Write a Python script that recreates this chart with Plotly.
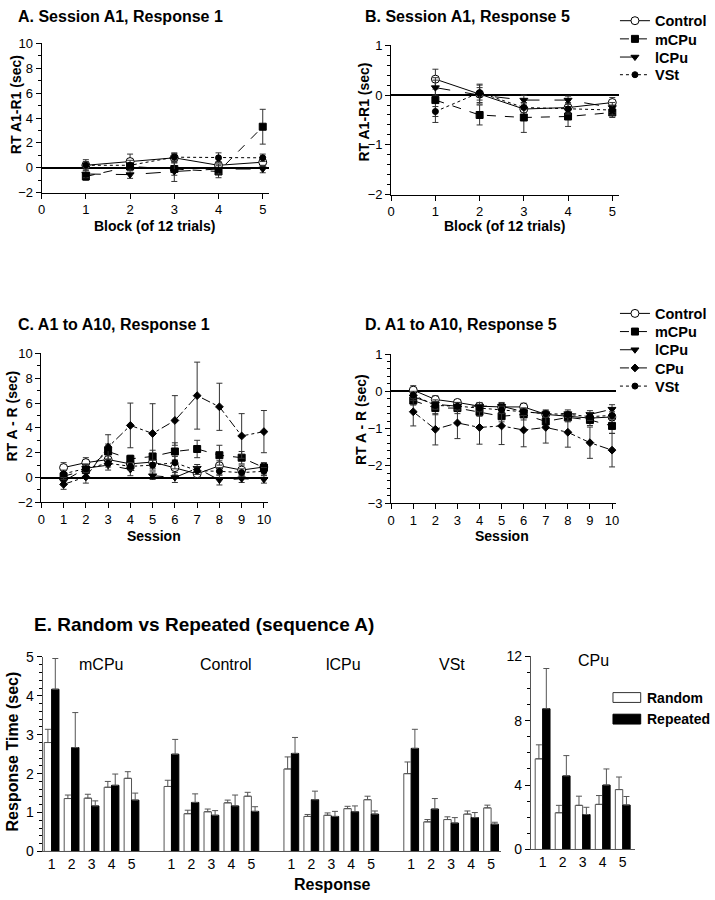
import plotly.graph_objects as go

W, H = 715, 900
FONT = "Liberation Sans, Arial, sans-serif"

# ---------------- data ----------------
blocks = [1, 2, 3, 4, 5]
sessions = [1, 2, 3, 4, 5, 6, 7, 8, 9, 10]

# Panel A: Session A1, Response 1 (RT A1-R1, sec)
a_control = [0.2, 0.5, 0.8, 0.2, 0.45]
a_control_err = [0.45, 0.6, 0.4, 0.3, 0.35]
a_mcpu = [-0.7, 0.1, -0.1, -0.3, 3.3]
a_mcpu_err = [0.3, 0.3, 0.5, 0.5, 1.4]
a_lcpu = [-0.5, -0.55, -0.3, -0.1, -0.1]
a_lcpu_err = [0.3, 0.3, 0.8, 0.4, 0.3]
a_vst = [0.2, 0.2, 0.85, 0.8, 0.8]
a_vst_err = [0.3, 0.4, 0.3, 0.4, 0.3]

# Panel B: Session A1, Response 5
b_control = [0.32, 0.02, -0.28, -0.25, -0.15]
b_control_err = [0.2, 0.2, 0.12, 0.1, 0.1]
b_mcpu = [-0.1, -0.4, -0.45, -0.43, -0.35]
b_mcpu_err = [0.45, 0.2, 0.3, 0.2, 0.1]
b_lcpu = [0.15, 0.0, -0.1, -0.1, -0.25]
b_lcpu_err = [0.15, 0.15, 0.1, 0.08, 0.1]
b_vst = [-0.33, 0.05, -0.25, -0.28, -0.3]
b_vst_err = [0.1, 0.15, 0.1, 0.1, 0.1]

# Panel C: A1 to A10, Response 1 (RT A - R, sec)
c_control = [0.8, 1.2, 1.45, 1.1, 1.25, 0.8, 0.3, 0.95, 0.6, 0.85]
c_control_err = [0.4, 0.4, 0.4, 0.4, 0.5, 0.6, 0.3, 0.4, 0.4, 0.3]
c_mcpu = [0.1, 0.6, 2.1, 1.5, 1.7, 2.1, 2.3, 1.8, 1.6, 0.8]
c_mcpu_err = [0.3, 0.5, 0.6, 0.3, 0.5, 0.7, 0.7, 0.8, 0.5, 0.4]
c_lcpu = [-0.3, 0.75, 1.0, 0.65, 0.15, 0.0, 0.75, -0.2, -0.1, -0.15]
c_lcpu_err = [0.3, 0.3, 0.4, 0.5, 0.3, 0.4, 0.3, 0.4, 0.3, 0.3]
c_cpu = [-0.55, 0.05, 2.45, 4.2, 3.55, 4.6, 6.6, 5.7, 3.35, 3.7]
c_cpu_err = [0.4, 0.5, 1.0, 1.8, 2.4, 2.0, 2.7, 1.9, 1.8, 1.7]
c_vst = [0.3, 0.7, 1.15, 0.9, 1.0, 1.2, 0.55, 0.5, 0.4, 0.5]
c_vst_err = [0.3, 0.3, 0.3, 0.3, 0.4, 0.5, 0.3, 0.3, 0.3, 0.3]

# Panel D: A1 to A10, Response 5
d_control = [0.03, -0.22, -0.3, -0.4, -0.42, -0.42, -0.62, -0.66, -0.72, -0.69]
d_control_err = [0.12, 0.1, 0.08, 0.08, 0.1, 0.1, 0.08, 0.08, 0.1, 0.1]
d_mcpu = [-0.25, -0.45, -0.45, -0.55, -0.67, -0.62, -0.81, -0.7, -0.77, -0.93]
d_mcpu_err = [0.12, 0.18, 0.15, 0.12, 0.15, 0.15, 0.15, 0.12, 0.15, 0.2]
d_lcpu = [-0.15, -0.35, -0.4, -0.4, -0.4, -0.55, -0.6, -0.6, -0.62, -0.48]
d_lcpu_err = [0.1, 0.12, 0.1, 0.1, 0.1, 0.1, 0.1, 0.1, 0.1, 0.12]
d_cpu = [-0.55, -1.02, -0.85, -0.97, -0.93, -1.04, -0.97, -1.1, -1.38, -1.58]
d_cpu_err = [0.38, 0.42, 0.42, 0.45, 0.5, 0.45, 0.42, 0.4, 0.42, 0.45]
d_vst = [-0.1, -0.38, -0.4, -0.45, -0.5, -0.55, -0.6, -0.62, -0.68, -0.65]
d_vst_err = [0.1, 0.1, 0.1, 0.1, 0.1, 0.1, 0.08, 0.08, 0.1, 0.1]

# Panel E: Random vs Repeated (Response Time, sec)
responses = [1, 2, 3, 4, 5]
e_groups = ["mCPu", "Control", "lCPu", "VSt"]
e_mcpu_random = [2.8, 1.36, 1.37, 1.65, 1.88]
e_mcpu_random_err = [0.34, 0.09, 0.10, 0.15, 0.17]
e_mcpu_repeated = [4.17, 2.67, 1.17, 1.70, 1.32]
e_mcpu_repeated_err = [0.79, 0.9, 0.13, 0.29, 0.18]
e_control_random = [1.67, 0.97, 1.02, 1.25, 1.42]
e_control_random_err = [0.16, 0.09, 0.07, 0.07, 0.10]
e_control_repeated = [2.5, 1.26, 0.93, 1.17, 1.03]
e_control_repeated_err = [0.38, 0.22, 0.12, 0.28, 0.12]
e_lcpu_random = [2.12, 0.9, 0.93, 1.1, 1.33]
e_lcpu_random_err = [0.31, 0.05, 0.06, 0.06, 0.09]
e_lcpu_repeated = [2.52, 1.33, 0.9, 1.02, 0.96]
e_lcpu_repeated_err = [0.41, 0.22, 0.13, 0.15, 0.08]
e_vst_random = [2.0, 0.76, 0.82, 0.96, 1.12]
e_vst_random_err = [0.3, 0.06, 0.07, 0.08, 0.07]
e_vst_repeated = [2.65, 1.09, 0.73, 0.87, 0.70]
e_vst_repeated_err = [0.49, 0.27, 0.14, 0.13, 0.05]
e_cpu_random = [5.63, 2.28, 2.74, 2.8, 3.72]
e_cpu_random_err = [0.87, 0.46, 0.57, 0.55, 0.78]
e_cpu_repeated = [8.74, 4.57, 2.17, 4.0, 2.76]
e_cpu_repeated_err = [2.5, 1.26, 0.45, 1.0, 0.53]

# ---------------- styles ----------------
STYLE = {
    "Control": dict(symbol="circle", color="white", size=8, dash="solid"),
    "mCPu": dict(symbol="square", color="black", size=7, dash="dash"),
    "lCPu": dict(symbol="triangle-down", color="black", size=7, dash="longdash"),
    "CPu": dict(symbol="diamond", color="black", size=6, dash="dashdot"),
    "VSt": dict(symbol="circle", color="black", size=6, dash="dot"),
}


def fx(px):
    return px / W


def fy(py):
    return 1 - py / H


fig = go.Figure()


def line_trace(name, x, y, err, xa, ya, legend=None):
    s = STYLE[name]
    return go.Scatter(
        x=x, y=y, name=name, mode="lines+markers",
        xaxis=xa, yaxis=ya,
        line=dict(color="black", width=1, dash=s["dash"]),
        marker=dict(symbol=s["symbol"], size=s["size"], color=s["color"],
                    line=dict(color="black", width=1)),
        error_y=dict(type="data", array=err, width=3, thickness=1, color="#333"),
        showlegend=legend is not None,
        legend=legend if legend else "legend",
    )


a_sets = [("Control", a_control, a_control_err), ("mCPu", a_mcpu, a_mcpu_err),
          ("lCPu", a_lcpu, a_lcpu_err), ("VSt", a_vst, a_vst_err)]
b_sets = [("Control", b_control, b_control_err), ("mCPu", b_mcpu, b_mcpu_err),
          ("lCPu", b_lcpu, b_lcpu_err), ("VSt", b_vst, b_vst_err)]
c_sets = [("Control", c_control, c_control_err), ("mCPu", c_mcpu, c_mcpu_err),
          ("lCPu", c_lcpu, c_lcpu_err), ("CPu", c_cpu, c_cpu_err), ("VSt", c_vst, c_vst_err)]
d_sets = [("Control", d_control, d_control_err), ("mCPu", d_mcpu, d_mcpu_err),
          ("lCPu", d_lcpu, d_lcpu_err), ("CPu", d_cpu, d_cpu_err), ("VSt", d_vst, d_vst_err)]

# one legend per entry so each row can sit exactly where the reference puts it
legfont = dict(family=FONT, size=14.5, color="black", weight="bold")
ab_rows = [13, 31.5, 50, 68]
cd_rows = [311, 329.5, 348, 366.5, 385]
legend_layout = {}
k = 0

for n, y, e in a_sets:
    fig.add_trace(line_trace(n, blocks, y, e, "x", "y"))
for i, (n, y, e) in enumerate(b_sets):
    k += 1
    lname = "legend" if k == 1 else f"legend{k}"
    legend_layout[lname] = dict(x=fx(617), y=fy(ab_rows[i]), xanchor="left", yanchor="middle",
                                font=legfont, bgcolor="rgba(0,0,0,0)", itemwidth=30)
    fig.add_trace(line_trace(n, blocks, y, e, "x2", "y2", legend=lname))
for n, y, e in c_sets:
    fig.add_trace(line_trace(n, sessions, y, e, "x3", "y3"))
for i, (n, y, e) in enumerate(d_sets):
    k += 1
    lname = f"legend{k}"
    legend_layout[lname] = dict(x=fx(617), y=fy(cd_rows[i]), xanchor="left", yanchor="middle",
                                font=legfont, bgcolor="rgba(0,0,0,0)", itemwidth=30)
    fig.add_trace(line_trace(n, sessions, y, e, "x4", "y4", legend=lname))

# Panel E bars
e_left_random = [e_mcpu_random, e_control_random, e_lcpu_random, e_vst_random]
e_left_random_err = [e_mcpu_random_err, e_control_random_err, e_lcpu_random_err, e_vst_random_err]
e_left_repeated = [e_mcpu_repeated, e_control_repeated, e_lcpu_repeated, e_vst_repeated]
e_left_repeated_err = [e_mcpu_repeated_err, e_control_repeated_err, e_lcpu_repeated_err, e_vst_repeated_err]

pos, rnd, rnd_e, rep, rep_e, labels = [], [], [], [], [], []
for g in range(len(e_groups)):
    for i, r in enumerate(responses):
        pos.append(g * 6 + r)
        labels.append(str(r))
        rnd.append(e_left_random[g][i])
        rnd_e.append(e_left_random_err[g][i])
        rep.append(e_left_repeated[g][i])
        rep_e.append(e_left_repeated_err[g][i])

BW = 0.37


def bar(x, y, err, fill, outline, xa, ya, offset):
    return go.Bar(
        x=x, y=y, xaxis=xa, yaxis=ya, width=BW, offset=offset,
        marker=dict(color=fill, line=dict(color=outline, width=1)),
        error_y=dict(type="data", symmetric=False, array=err,
                     arrayminus=[0] * len(err), width=3, thickness=1, color="#555"),
        showlegend=False,
    )


fig.add_trace(bar(pos, rnd, rnd_e, "white", "#555", "x5", "y5", -BW))
fig.add_trace(bar(pos, rep, rep_e, "black", "black", "x5", "y5", 0))
fig.add_trace(bar(responses, e_cpu_random, e_cpu_random_err, "white", "#555", "x6", "y6", -BW))
fig.add_trace(bar(responses, e_cpu_repeated, e_cpu_repeated_err, "black", "black", "x6", "y6", 0))

# ---------------- axes ----------------
tickfont = dict(family=FONT, size=13, color="black")
tickfont_e = dict(family=FONT, size=14, color="black")


def xaxis(x0, x1, y_anchor, rng, **kw):
    d = dict(domain=[fx(x0), fx(x1)], range=rng, anchor=y_anchor,
             showline=True, linecolor="black", linewidth=1,
             ticks="outside", ticklen=5, tickcolor="black", tickwidth=1,
             showgrid=False, zeroline=False, tickfont=tickfont)
    d.update(kw)
    return d


def yaxis(ytop, ybot, x_anchor, rng, dtick, minor, **kw):
    d = dict(domain=[fy(ybot), fy(ytop)], range=rng, anchor=x_anchor,
             showline=True, linecolor="black", linewidth=1,
             ticks="outside", ticklen=5, tickcolor="black", tickwidth=1,
             dtick=dtick, tick0=0,
             minor=dict(dtick=minor, ticks="outside", ticklen=3, tickcolor="black", tickwidth=1),
             showgrid=False, zeroline=True, zerolinecolor="black", zerolinewidth=2,
             tickfont=tickfont)
    d.update(kw)
    return d


fig.update_layout(
    xaxis=xaxis(38, 268, "y", [0, 5.15], dtick=1, tick0=0),
    yaxis=yaxis(36, 188, "x", [-2, 10], 2, 1),
    xaxis2=xaxis(391, 621, "y2", [0, 5.15], dtick=1, tick0=0),
    yaxis2=yaxis(38, 190, "x2", [-2, 1], 1, 0.2),
    xaxis3=xaxis(37.7, 267, "y3", [0, 10.2], dtick=1, tick0=0),
    yaxis3=yaxis(351.7, 503.3, "x3", [-2, 10], 2, 1),
    xaxis4=xaxis(391, 618.5, "y4", [0, 10.2], dtick=1, tick0=0),
    yaxis4=yaxis(352.3, 504, "x4", [-3, 1], 1, 0.2),
    xaxis5=xaxis(39, 502, "y5", [0.55, 23.5], tickvals=pos, ticktext=labels,
                 ticks="", linecolor="#555", tickfont=tickfont_e),
    yaxis5=yaxis(660.7, 858.7, "x5", [0, 5], 1, 0.2, zeroline=False, linecolor="#555",
                 tickfont=tickfont_e),
    xaxis6=xaxis(532, 637, "y6", [0.41, 5.6], tickvals=responses,
                 ticktext=[str(r) for r in responses], ticks="", linecolor="#555",
                 tickfont=tickfont_e),
    yaxis6=yaxis(660, 856.7, "x6", [0, 12], 4, 1, zeroline=False, linecolor="#555",
                 tickfont=tickfont_e),
)

fig.update_layout(**legend_layout)

# Legend for panel E (boxes drawn as shapes)
shapes = [
    dict(type="rect", xref="paper", yref="paper", x0=fx(615), x1=fx(643), y0=fy(707), y1=fy(697),
         fillcolor="white", line=dict(color="#333", width=1)),
    dict(type="rect", xref="paper", yref="paper", x0=fx(615), x1=fx(643), y0=fy(729), y1=fy(719),
         fillcolor="black", line=dict(color="black", width=1)),
]
fig.update_layout(shapes=shapes)

# ---------------- annotations ----------------
anns = []


def ann(text, x, y, size, bold=False, xanchor="center", angle=0):
    anns.append(dict(text=text, x=fx(x), y=fy(y), xref="paper", yref="paper",
                     showarrow=False, xanchor=xanchor, yanchor="middle", textangle=angle,
                     font=dict(family=FONT, size=size, color="black",
                               weight="bold" if bold else "normal")))


ann("A. Session A1, Response 1", 12, 9, 16, True, "left")
ann("B. Session A1, Response 5", 363, 9, 16, True, "left")
ann("C. A1 to A10, Response 1", 12, 322, 16, True, "left")
ann("D. A1 to A10, Response 5", 363, 322, 16, True, "left")
ann("RT A1-R1 (sec)", 12, 98, 14, True, angle=-90)
ann("RT A1-R1 (sec)", 364, 106, 14, True, angle=-90)
ann("RT A - R (sec)", 8, 415, 14, True, angle=-90)
ann("RT A - R (sec)", 360, 419, 14, True, angle=-90)
ann("Block (of 12 trials)", 152, 222, 14, True)
ann("Block (of 12 trials)", 505, 222, 14, True)
ann("Session", 151, 538, 14, True)
ann("Session", 503, 538, 14, True)

ann("E. Random vs Repeated (sequence A)", 28, 628, 19, True, "left")
ann("Response Time (sec)", 9, 757, 16, True, angle=-90)
ann("Response", 332, 892, 16, True)
for name, x in zip(e_groups, [98, 224, 343, 452]):
    ann(name, x, 668, 16)
ann("CPu", 595, 664, 16)
ann("Random", 647, 702, 14, True, "left")
ann("Repeated", 647, 724, 14, True, "left")

fig.update_layout(
    annotations=anns,
    width=W, height=H,
    margin=dict(l=0, r=0, t=0, b=0),
    paper_bgcolor="white", plot_bgcolor="white",
    font=dict(family=FONT, color="black"),
    barmode="overlay",
    hovermode=False,
)

fig.write_html(
    "out.html",
    config={"displayModeBar": False, "staticPlot": True},
    post_script="document.body.style.margin='0px';document.body.style.overflow='hidden';",
)
